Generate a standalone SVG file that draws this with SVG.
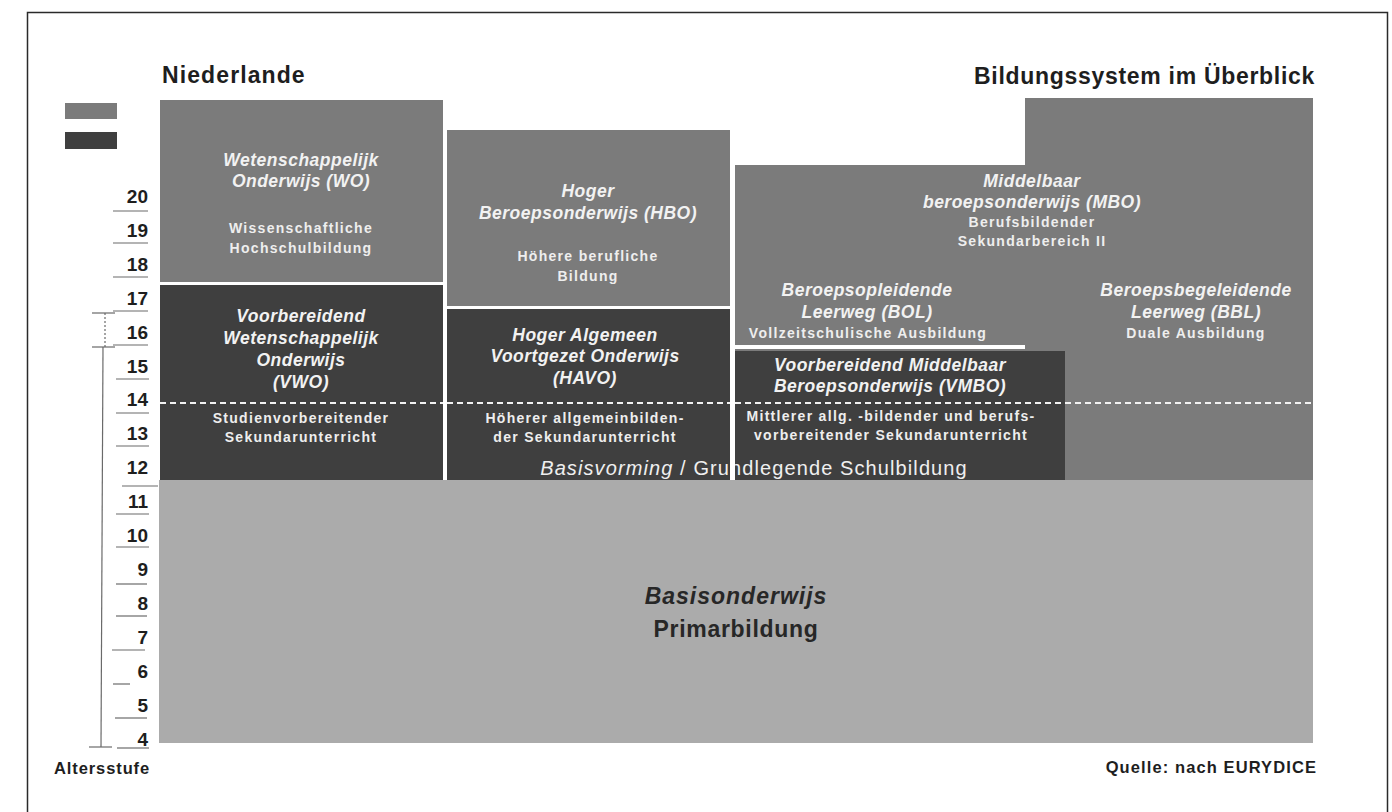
<svg xmlns="http://www.w3.org/2000/svg" width="1392" height="812" viewBox="0 0 1392 812">
<style>
.lt{fill:#7b7b7b}
.dk{fill:#3f3f3f}
.pr{fill:#ababab}
text{font-family:"Liberation Sans",Arial,sans-serif}
.hd{font-weight:bold;font-style:italic;font-size:17.5px;fill:#f2f2f2;text-anchor:middle;letter-spacing:0.5px}
.sb{font-weight:bold;font-size:14px;fill:#eeeeee;text-anchor:middle;letter-spacing:1.3px}
.num{font-weight:bold;font-size:19px;fill:#1e1e1e;text-anchor:end}
.tk{stroke:#6a6a6a;stroke-width:1.2}
.title{font-weight:bold;font-size:23px;fill:#1e1e1e;letter-spacing:1.1px}
.dash{stroke:#f2f2f2;stroke-width:2;stroke-dasharray:6 4;fill:none}
</style>
<rect x="0" y="0" width="1392" height="812" fill="#ffffff"/>
<rect x="27.5" y="12.5" width="1360" height="820" fill="none" stroke="#2a2a2a" stroke-width="1.5"/>
<g id="titles">
<text class="title" x="162" y="83">Niederlande</text>
<text class="title" x="1315" y="84" text-anchor="end" style="letter-spacing:0.7px">Bildungssystem im Überblick</text>
</g>
<g id="legend">
<rect class="lt" x="65" y="103" width="52" height="16"/>
<rect class="dk" x="65" y="132" width="52" height="17"/>
</g>
<g id="primary">
<rect class="pr" x="159" y="480" width="1154" height="263"/>
<text x="736" y="604" text-anchor="middle" font-size="23" font-weight="bold" font-style="italic" fill="#272727" letter-spacing="1">Basisonderwijs</text>
<text x="736" y="637" text-anchor="middle" font-size="23" font-weight="bold" fill="#272727" letter-spacing="0.7">Primarbildung</text>
</g>
<g id="wo">
<rect class="lt" x="160" y="100" width="283" height="182"/>
<text class="hd" x="301" y="166">Wetenschappelijk</text>
<text class="hd" x="301" y="187">Onderwijs (WO)</text>
<text class="sb" x="301" y="233">Wissenschaftliche</text>
<text class="sb" x="301" y="253">Hochschulbildung</text>
</g>
<g id="vwo">
<rect class="dk" x="160" y="285" width="283" height="195"/>
<text class="hd" x="301" y="322">Voorbereidend</text>
<text class="hd" x="301" y="344">Wetenschappelijk</text>
<text class="hd" x="301" y="366">Onderwijs</text>
<text class="hd" x="301" y="388">(VWO)</text>
<text class="sb" x="301" y="423">Studienvorbereitender</text>
<text class="sb" x="301" y="442">Sekundarunterricht</text>
</g>
<g id="hbo">
<rect class="lt" x="447" y="130" width="283" height="176"/>
<text class="hd" x="588" y="197">Hoger</text>
<text class="hd" x="588" y="219">Beroepsonderwijs (HBO)</text>
<text class="sb" x="588" y="261">Höhere berufliche</text>
<text class="sb" x="588" y="281">Bildung</text>
</g>
<g id="havo">
<rect class="dk" x="447" y="309" width="283" height="171"/>
<text class="hd" x="585" y="341">Hoger Algemeen</text>
<text class="hd" x="585" y="362">Voortgezet Onderwijs</text>
<text class="hd" x="585" y="384">(HAVO)</text>
<text class="sb" x="585" y="423">Höherer allgemeinbilden-</text>
<text class="sb" x="585" y="442">der Sekundarunterricht</text>
</g>
<g id="mbo">
<polygon class="lt" points="735,165 1025,165 1025,98 1313,98 1313,480 735,480"/>
<text class="hd" x="1032" y="187">Middelbaar</text>
<text class="hd" x="1032" y="208">beroepsonderwijs (MBO)</text>
<text class="sb" x="1032" y="227">Berufsbildender</text>
<text class="sb" x="1032" y="246">Sekundarbereich II</text>
</g>
<g id="bol">
<text class="hd" x="867" y="296">Beroepsopleidende</text>
<text class="hd" x="867" y="318">Leerweg (BOL)</text>
<text class="sb" x="868" y="338">Vollzeitschulische Ausbildung</text>
<rect x="735" y="345" width="290" height="4" fill="#ffffff"/>
</g>
<g id="bbl">
<text class="hd" x="1196" y="296">Beroepsbegeleidende</text>
<text class="hd" x="1196" y="318">Leerweg (BBL)</text>
<text class="sb" x="1196" y="338">Duale Ausbildung</text>
</g>
<g id="vmbo">
<rect class="dk" x="735" y="351" width="330" height="129"/>
<text class="hd" x="890" y="371">Voorbereidend Middelbaar</text>
<text class="hd" x="890" y="392">Beroepsonderwijs (VMBO)</text>
<text class="sb" x="891" y="421">Mittlerer allg. -bildender und berufs-</text>
<text class="sb" x="891" y="440">vorbereitender Sekundarunterricht</text>
</g>
<g id="connectors">
<line class="dash" x1="160" y1="403" x2="443" y2="403"/>
<line class="dash" x1="447" y1="403" x2="730" y2="403"/>
<line class="dash" x1="735" y1="403" x2="1313" y2="403"/>
</g>
<g id="basisvorming">
<text x="754" y="475" text-anchor="middle" font-size="20" fill="#efefef" letter-spacing="1.1"><tspan font-style="italic">Basisvorming</tspan> / Grundlegende Schulbildung</text>
<rect x="730" y="309" width="5" height="171" fill="#ffffff"/>
</g>
<g id="agescale">
<line class="tk" x1="105" y1="313" x2="105" y2="347" stroke-dasharray="2 2" stroke-width="2"/>
<line class="tk" x1="92" y1="313" x2="115" y2="313" stroke-width="2"/>
<line class="tk" x1="92" y1="347" x2="115" y2="347" stroke-width="2"/>
<line class="tk" x1="103" y1="347" x2="101" y2="747" stroke-width="2"/>
<line class="tk" x1="89" y1="747" x2="112" y2="747" stroke-width="2"/>
<text class="num" x="148" y="203">20</text>
<text class="num" x="148" y="237">19</text>
<text class="num" x="148" y="271">18</text>
<text class="num" x="148" y="305">17</text>
<text class="num" x="148" y="339">16</text>
<text class="num" x="148" y="373">15</text>
<text class="num" x="148" y="406">14</text>
<text class="num" x="148" y="440">13</text>
<text class="num" x="148" y="474">12</text>
<text class="num" x="148" y="508">11</text>
<text class="num" x="148" y="542">10</text>
<text class="num" x="148" y="576">9</text>
<text class="num" x="148" y="610">8</text>
<text class="num" x="148" y="644">7</text>
<text class="num" x="148" y="678">6</text>
<text class="num" x="148" y="712">5</text>
<text class="num" x="148" y="746">4</text>
<line class="tk" x1="113" y1="211" x2="148" y2="211"/>
<line class="tk" x1="113" y1="243" x2="148" y2="243"/>
<line class="tk" x1="113" y1="277" x2="148" y2="277"/>
<line class="tk" x1="113" y1="311" x2="148" y2="311"/>
<line class="tk" x1="113" y1="345" x2="148" y2="345"/>
<line class="tk" x1="116" y1="379" x2="149" y2="379"/>
<line class="tk" x1="116" y1="413" x2="149" y2="413"/>
<line class="tk" x1="116" y1="446" x2="149" y2="446"/>
<line class="tk" x1="122" y1="486" x2="158" y2="486"/>
<line class="tk" x1="116" y1="514" x2="149" y2="514"/>
<line class="tk" x1="116" y1="547" x2="149" y2="547"/>
<line class="tk" x1="116" y1="584" x2="147" y2="584"/>
<line class="tk" x1="116" y1="616" x2="147" y2="616"/>
<line class="tk" x1="112" y1="650" x2="145" y2="650"/>
<line class="tk" x1="113" y1="684" x2="130" y2="684"/>
<line class="tk" x1="115" y1="718" x2="147" y2="718"/>
<line class="tk" x1="117" y1="748" x2="149" y2="748"/>
<text x="54" y="774" font-weight="bold" font-size="16.5" fill="#1e1e1e" letter-spacing="0.9">Altersstufe</text>
</g>
<g id="source">
<text x="1317" y="773" text-anchor="end" font-weight="bold" font-size="16.5" fill="#1e1e1e" letter-spacing="1.1">Quelle: nach EURYDICE</text>
</g>
</svg>
